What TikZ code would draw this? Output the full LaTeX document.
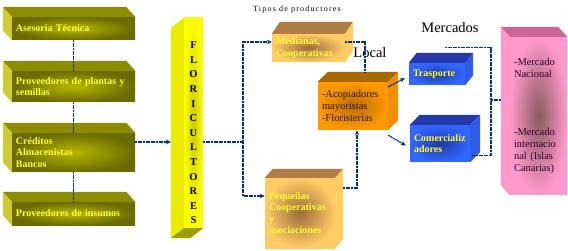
\documentclass[tikz,border=0pt]{standalone}
\usepackage{fontspec}
\setmainfont{Liberation Serif}
\usepackage{tikz}
\usetikzlibrary{arrows.meta,calc}

\definecolor{olivo}{HTML}{6B6B00}
\definecolor{olivoclaro}{HTML}{B8B800}
\definecolor{olivotapa}{HTML}{8C8C00}
\definecolor{olivolado}{HTML}{CCCC33}
\definecolor{amarillo}{HTML}{FFFF00}
\definecolor{amarillooscuro}{HTML}{C9C900}
\definecolor{amarillolado}{HTML}{EBEB00}
\definecolor{amarillobase}{HTML}{9E9E00}
\definecolor{melocoton}{HTML}{FFCC66}
\definecolor{melocotoncentro}{HTML}{9C6B3A}
\definecolor{melocotontapa}{HTML}{B07D45}
\definecolor{naranja}{HTML}{FF9900}
\definecolor{naranjacentro}{HTML}{B86E00}
\definecolor{naranjatapa}{HTML}{A86800}
\definecolor{naranjalado}{HTML}{F28C00}
\definecolor{azul}{HTML}{3366FF}
\definecolor{azulcentro}{HTML}{1F3A9E}
\definecolor{azultapa}{HTML}{2438AA}
\definecolor{azullado}{HTML}{2E5CE6}
\definecolor{rosa}{HTML}{FF99CC}
\definecolor{rosacentro}{HTML}{8A5A5E}
\definecolor{rosatapa}{HTML}{CC6699}
\definecolor{linea}{HTML}{003366}
\definecolor{textoyema}{HTML}{FFFF33}
\definecolor{textooscuro}{HTML}{331A00}
\definecolor{textorosa}{HTML}{330033}

\begin{document}
\begin{tikzpicture}[x=1pt,y=-1pt,
caja/.style n args={4}{rectangle,shade,outer color=#1,inner color=#2,text width=#3,minimum height=#4,inner xsep=4pt,inner ysep=0pt,align=left,font=\fontsize{10}{11.5}\selectfont\bfseries,text=textoyema},
oscuro/.style={font=\fontsize{10.5}{12}\selectfont,text=#1},
conector/.style={draw=linea,line width=1.2pt,dash pattern=on 2pt off 0.6pt},
flecha/.style={conector,-{Stealth[length=5pt,width=4.5pt]}},
letra/.style={font=\fontsize{10.5}{12}\selectfont\bfseries},
titulo/.style={font=\fontsize{14.5}{16}\selectfont}]
\useasboundingbox (0,0) rectangle (568,251);

\node[caja={olivo}{olivoclaro}{115pt}{23pt}] (asesoria) at (73.5,28.5) {Asesoria Técnica};
\node[caja={olivo}{olivoclaro}{115pt}{31pt}] (proveedores) at (73.5,86.5) {Proveedores de plantas y\\semillas};
\node[caja={olivo}{olivoclaro}{115pt}{39pt}] (creditos) at (73.5,152.5) {Créditos\\Almacenistas\\Bancos};
\node[caja={olivo}{olivoclaro}{115pt}{23pt}] (insumos) at (73.5,213.5) {Proveedores de insumos};
\node[caja={amarillo}{amarillooscuro}{11pt}{210pt}] (floricultores) at (193.5,123) {};
\node[caja={melocoton}{melocotoncentro}{65pt}{28pt}] (medianas) at (308.5,48) {Medianas,\\Cooperativas};
\node[caja={melocoton}{melocotoncentro}{62pt}{70pt}] (pequenas) at (300,213) {Pequeñas\\Cooperativas\\y\\asociaciones};
\node[caja={naranja}{naranjacentro}{62pt}{48pt},oscuro=textooscuro] (acopiadores) at (353,106) {-Acopiadores\\mayoristas\\-Floristerías};
\node[caja={azul}{azulcentro}{48pt}{22pt}] (trasporte) at (437,74) {Trasporte};
\node[caja={azul}{azulcentro}{52pt}{37pt}] (comercial) at (440,143.5) {Comercializ\\adores};
\node[caja={rosa}{rosacentro}{49pt}{158pt},oscuro=textorosa] (mercados) at (538.5,116) {-Mercado\\Nacional\\[46pt]-Mercado\\internacio\\nal (Islas\\Canarias)};

\foreach \n/\tapa/\lado in {asesoria/olivotapa/olivolado,proveedores/olivotapa/olivolado,creditos/olivotapa/olivolado,insumos/olivotapa/olivolado,mercados/rosatapa/rosa} {
   \fill[\tapa] (\n.north west) -- ++(-9,-10) -- ($(\n.north east)+(-9,-10)$) -- (\n.north east) -- cycle;
   \fill[\lado] (\n.north west) -- ++(-9,-10) -- ($(\n.south west)+(-9,-10)$) -- (\n.south west) -- cycle;
}
\foreach \n/\tapa/\lado/\dx/\dy in {medianas/melocotontapa/melocoton/8/-12,pequenas/melocotontapa/melocoton/8/-9,acopiadores/naranjatapa/naranjalado/10/-10,trasporte/azultapa/azullado/8/-10,comercial/azultapa/azullado/10/-10} {
   \fill[\tapa] (\n.north west) -- ++(\dx,\dy) -- ($(\n.north east)+(\dx,\dy)$) -- (\n.north east) -- cycle;
   \fill[\lado] (\n.north east) -- ++(\dx,\dy) -- ($(\n.south east)+(\dx,\dy)$) -- (\n.south east) -- cycle;
}
\fill[amarillolado] (floricultores.north west) -- ++(-13,10) -- ($(floricultores.south west)+(-13,10)$) -- (floricultores.south west) -- cycle;
\fill[amarillobase] (floricultores.south west) -- ++(-13,10) -- ($(floricultores.south east)+(-13,10)$) -- (floricultores.south east) -- cycle;
\foreach \l [count=\i] in {F,L,O,R,I,C,U,L,T,O,R,E,S} {
   \node[letra] (letra\i) at (193.5,30.6+14.6*\i) {\l};
}

\node[font=\fontsize{8}{9}\selectfont\addfontfeature{LetterSpace=15}] (tipos) at (297,10) {Tipos de productores};
\node[titulo] (local) at (370,53) {Local};
\node[titulo] (mercadostit) at (450,28) {Mercados};

\coordinate (entrada) at (171,142);
\coordinate (ramal) at (243,142);
\coordinate (ramaalta) at (243,42);
\coordinate (ramabaja) at (243,196);
\coordinate (codo) at (491,100);

\draw[conector] (asesoria.south) -- (proveedores.north) (proveedores.south) -- (creditos.north) (creditos.south) -- (insumos.north);
\draw[flecha] (entrada -| creditos.east) -- (entrada);
\draw[conector] (ramal -| floricultores.east) -- (ramal);
\draw[flecha] (ramal) -- (ramaalta) -- (ramaalta -| medianas.west);
\draw[flecha] (ramal) -- (ramabaja) -- (ramabaja -| pequenas.west);
\draw[conector] (ramaalta -| medianas.east) -| ($(acopiadores.north)+(12,-9)$);
\draw[flecha] ($(pequenas.east)+(8,-25)$) -| ($(acopiadores.south)+(4,0)$);
\draw[flecha] ($(acopiadores.north east)+(0,5)$) -- ($(trasporte.south west)+(-4,-7)$);
\draw[flecha] ($(acopiadores.south east)+(0,5)$) -- ($(comercial.west)+(-4,2)$);
\draw[conector] ($(trasporte.north)+(8,-15)$) -| (codo) |- ($(comercial.south east)+(2,-7)$);
\draw[conector] (codo) -- ($(codo -| mercados.west)+(-9,0)$);
\end{tikzpicture}
\end{document}
